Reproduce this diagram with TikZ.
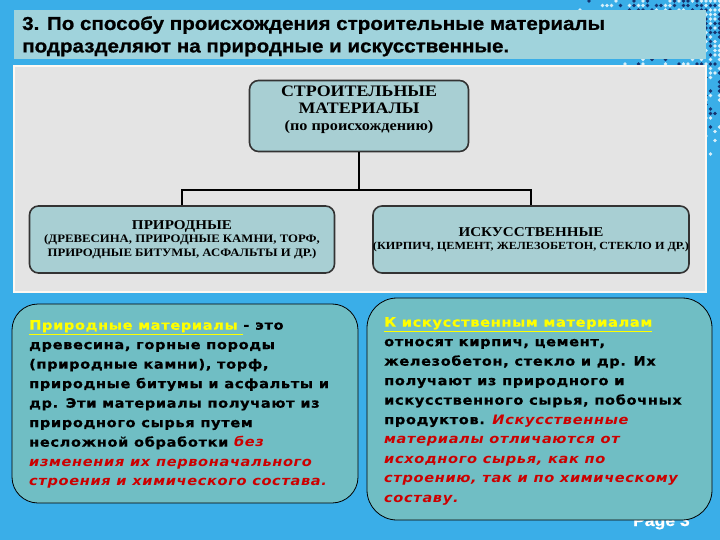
\documentclass[tikz,border=0pt]{standalone}
\usepackage{fontspec}
\setmainfont{Liberation Serif}
\newfontfamily\headfont[FakeStretch=1.1,BoldFeatures={FakeBold=0.8}]{Liberation Sans}
\newfontfamily\boxfont[FakeStretch=1.12]{Liberation Serif}
\newfontfamily\notefont[FakeStretch=1.12,LetterSpace=5,BoldFeatures={FakeBold=0.6}]{DejaVu Sans}
\definecolor{slideblue}{RGB}{58,174,232}
\definecolor{bandteal}{RGB}{160,211,220}
\definecolor{panelgray}{RGB}{228,228,228}
\definecolor{boxteal}{RGB}{168,207,211}
\definecolor{noteteal}{RGB}{112,190,196}
\definecolor{notered}{RGB}{204,0,0}
\definecolor{noteyellow}{RGB}{255,255,0}
\definecolor{mosaicnavy}{RGB}{22,52,112}
\tikzset{
  classbox/.style={draw=black!80, line width=1.6pt, fill=boxteal,
                   rounded corners=9pt, align=center, inner sep=0pt},
  conn/.style={line width=2.6pt},
  notebox/.style={draw=black, line width=0.8pt, fill=noteteal},
  notetext/.style={anchor=north west, align=left, inner sep=0pt,
                   font=\notefont\bfseries\fontsize{13}{19.5}\selectfont},
}
\newcommand{\term}[1]{\textcolor{noteyellow}{\underline{#1}}}
\newcommand{\stress}[1]{\textcolor{notered}{\itshape #1}}

\begin{document}
\begin{tikzpicture}[x=1pt,y=-1pt]
  % slide background
  \fill[slideblue] (0,0) rectangle (720,540);
  \useasboundingbox (0,0) rectangle (720,540);
  % mosaic in the corner
  \pgfmathsetseed{11}
  \foreach \i in {0,...,31} {
    \foreach \j in {0,...,34} {
      \pgfmathsetmacro{\px}{580+4.5*\i}
      \pgfmathsetmacro{\py}{1+4.5*\j}
      \pgfmathsetmacro{\near}{(720-\px)+0.9*\py}
      \pgfmathsetmacro{\pick}{rnd < 1.2-0.0075*\near ? (rnd < 0.45 ? 2 : 1) : 0}
      \ifcase\pick\relax
      \or \fill[white!80!slideblue] (\px,\py-1.9) -- (\px+1.9,\py) -- (\px,\py+1.9) -- (\px-1.9,\py) -- cycle;
      \or \fill[mosaicnavy] (\px,\py-1.9) -- (\px+1.9,\py) -- (\px,\py+1.9) -- (\px-1.9,\py) -- cycle;
      \fi
    }
  }
  % title band
  \fill[bandteal] (14,10) rectangle (706,59);
  \node[anchor=north west, align=left, inner sep=0pt,
        font=\headfont\bfseries\fontsize{18.7}{22.5}\selectfont] (title) at (22,16)
    {3. По способу происхождения строительные материалы\\
     подразделяют на природные и искусственные.};
  % picture panel
  \fill[white!95!orange] (13,65) rectangle (707,293);
  \fill[panelgray] (15,67) rectangle (705,291);
  % classification
  \node[classbox, minimum width=219pt, minimum height=71pt] (materials) at (359,116) {};
  \node[anchor=north, align=center, inner sep=0pt,
        font=\boxfont\bfseries\fontsize{16}{17}\selectfont] (materialstext)
        at ([yshift=-6pt]materials.north)
    {СТРОИТЕЛЬНЫЕ\\ МАТЕРИАЛЫ\\
     {\fontsize{14.5}{15.5}\selectfont (по происхождению)}};
  \node[classbox, minimum width=305pt, minimum height=67pt,
        font=\boxfont\bfseries\fontsize{11.4}{13.5}\selectfont] (natural) at (182,239.5)
    {{\fontsize{13.5}{14}\selectfont ПРИРОДНЫЕ}\\
     (ДРЕВЕСИНА, ПРИРОДНЫЕ КАМНИ, ТОРФ,\\
     ПРИРОДНЫЕ БИТУМЫ, АСФАЛЬТЫ И ДР.)};
  \node[classbox, minimum width=316pt, minimum height=67pt,
        font=\boxfont\bfseries\fontsize{10.9}{13.5}\selectfont] (artificial) at (531,239.5)
    {{\fontsize{13.5}{14}\selectfont ИСКУССТВЕННЫЕ}\\
     (КИРПИЧ, ЦЕМЕНТ, ЖЕЛЕЗОБЕТОН, СТЕКЛО И ДР.)};
  \coordinate (fork) at (359,190);
  \draw[conn] (materials.south) -- (fork);
  \draw[conn] (natural.north) |- (fork) -| (artificial.north);
  % page number under the note
  \node[anchor=base east, inner sep=0pt, text=white,
        font=\headfont\bfseries\fontsize{16}{16}\selectfont] (page) at (690,526) {Page 3};
  % notes
  \draw[notebox, rounded corners=26pt] (12,304) rectangle (358,503);
  \node[notetext] (nattext) at (29,320)
    {\term{Природные материалы\ }- это\\
     древесина, горные породы\\
     (природные камни), торф,\\
     природные битумы и асфальты и\\
     др. Эти материалы получают из\\
     природного сырья путем\\
     несложной обработки \stress{без}\\
     \stress{изменения их первоначального}\\
     \stress{строения и химического состава.}};
  \draw[notebox, rounded corners=30pt] (367,298) rectangle (712,520);
  \node[notetext] (arttext) at (384,317)
    {\term{К искусственным материалам}\\
     относят кирпич, цемент,\\
     железобетон, стекло и др. Их\\
     получают из природного и\\
     искусственного сырья, побочных\\
     продуктов. \stress{Искусственные}\\
     \stress{материалы отличаются от}\\
     \stress{исходного сырья, как по}\\
     \stress{строению, так и по химическому}\\
     \stress{составу.}};
\end{tikzpicture}
\end{document}
